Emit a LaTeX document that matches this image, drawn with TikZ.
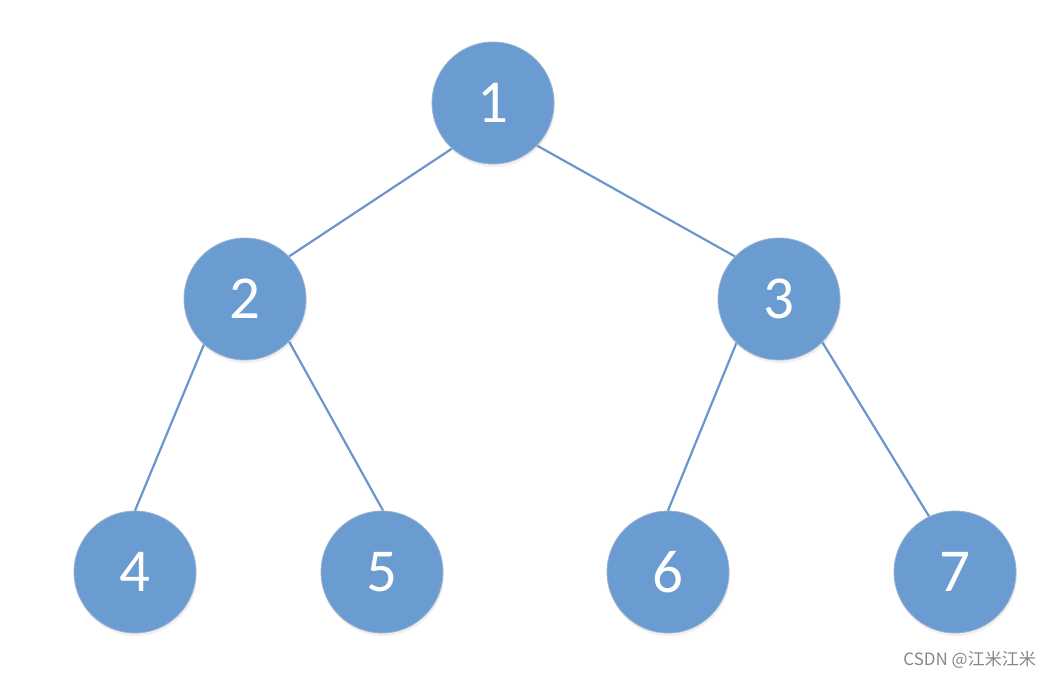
\documentclass[tikz,border=0pt]{standalone}
\usepackage{fontspec}
\setmainfont{Carlito}
\newfontfamily\cjk{Noto Sans CJK SC}
\usetikzlibrary{shadows}
\definecolor{nodeblue}{RGB}{106,155,209}
\definecolor{nodeborder}{RGB}{160,180,205}
\definecolor{edgeblue}{RGB}{106,150,205}
\definecolor{wmgray}{RGB}{135,135,135}
\begin{document}
\begin{tikzpicture}[x=1pt,y=-1pt,
  tnode/.style={circle,fill=nodeblue,draw=nodeborder,line width=0.8pt,minimum size=122pt,inner sep=0pt,
    text=white,font=\fontsize{61}{61}\selectfont,
    drop shadow={shadow xshift=1pt,shadow yshift=-3pt,opacity=0.15,fill=black!40}},
  tedge/.style={draw=edgeblue,line width=2.2pt}]
\useasboundingbox (0,0) rectangle (1052,678);
\node[tnode] (n1) at (493,103) {1};
\node[tnode] (n2) at (245,299) {2};
\node[tnode] (n3) at (779,299) {3};
\node[tnode] (n4) at (135,572) {4};
\node[tnode] (n5) at (382,572) {5};
\node[tnode] (n6) at (668,572) {6};
\node[tnode] (n7) at (955,572) {7};
\draw[tedge] (n1.228) -- (n2.44);
\draw[tedge] (n1.316) -- (n3.136);
\draw[tedge] (n2.228) -- (n4.90);
\draw[tedge] (n2.316) -- (n5.89);
\draw[tedge] (n3.226) -- (n6.90);
\draw[tedge] (n3.315) -- (n7.115);
\node[anchor=east,text=wmgray,font=\cjk\fontsize{17}{17}\selectfont,inner sep=0pt] (wm) at (1036,660) {CSDN @江米江米};
\end{tikzpicture}
\end{document}
